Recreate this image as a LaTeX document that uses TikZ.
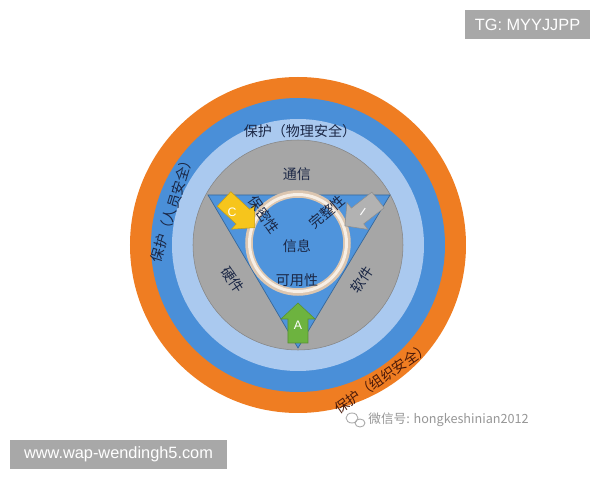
\documentclass[tikz,border=0pt]{standalone}
\usepackage{fontspec}
\setmainfont{Liberation Sans}
\newfontfamily\cjk{Noto Sans CJK SC}
\definecolor{orng}{HTML}{EF7D22}
\definecolor{midblue}{HTML}{4A8FD8}
\definecolor{lightblue}{HTML}{AAC9EF}
\definecolor{disk}{HTML}{A6A6A6}
\definecolor{tri}{HTML}{4F94DC}
\definecolor{navy}{HTML}{1B2745}
\definecolor{brownred}{HTML}{4A1A0A}
\definecolor{ringc}{HTML}{DCC6B0}
\definecolor{ringh}{HTML}{F7EFE6}
\definecolor{wmgray}{HTML}{A8A8A8}
\definecolor{yel}{HTML}{F6C51C}
\definecolor{grn}{HTML}{6DB33F}
\definecolor{garrow}{HTML}{B2B2B2}
\begin{document}
\begin{tikzpicture}[x=0.02cm,y=-0.02cm,
  lab/.style={font=\cjk\fontsize{8}{9}\selectfont, text=navy, inner sep=0pt},
  wm/.style={fill=wmgray, text=white, font=\fontsize{9.3}{11}\selectfont, inner sep=0pt, anchor=center},
  arrlab/.style={text=white, font=\fontsize{7}{8}\selectfont, inner sep=0pt},
  blockarrow/.style={line width=0.3pt}
]
\useasboundingbox (0,0) rectangle (600,480);
\fill[white] (0,0) rectangle (600,480);
\coordinate (O) at (298,245);
% rings
\fill[orng] (O) circle[radius=168];
\fill[midblue] (O) circle[radius=147];
\fill[lightblue] (O) circle[radius=126];
\fill[disk] (O) circle[radius=105];
\draw[disk!80!black, line width=0.3pt] (O) circle[radius=105];
% triangle
\coordinate (T1) at (208,195);
\coordinate (T2) at (390,195);
\coordinate (T3) at (298,348);
\filldraw[fill=tri, draw=tri!70!black, line width=0.4pt] (T1) -- (T2) -- (T3) -- cycle;
% inner ring
\coordinate (R) at (298,243);
\fill[tri] (R) circle[radius=49];
\draw[ringc, line width=7.5*0.02cm] (R) circle[radius=49];
\draw[ringh, line width=3*0.02cm] (R) circle[radius=48.5];
% block arrows
\filldraw[fill=yel, draw=yel!80!black, blockarrow, shift={(224,199)}, rotate=-43]
  (0,-10) -- (26,-10) -- (26,-17) -- (42,0) -- (26,17) -- (26,10) -- (0,10) -- cycle;
\filldraw[fill=garrow, draw=garrow!80!black, blockarrow, shift={(378,200)}, rotate=-142]
  (0,-10) -- (26,-10) -- (26,-17) -- (42,0) -- (26,17) -- (26,10) -- (0,10) -- cycle;
\filldraw[fill=grn, draw=grn!80!black, blockarrow, shift={(298,343)}, rotate=90]
  (0,-10) -- (24,-10) -- (24,-17) -- (40,0) -- (24,17) -- (24,10) -- (0,10) -- cycle;
\node[arrlab] (labC) at (232,212) {C};
\node[arrlab, rotate=-35] (labI) at (363,212) {I};
\node[arrlab] (labA) at (298,325) {A};
% texts
\node[lab] (phys) at (300,131) {保护（物理安全）};
\node[lab, rotate=73] (pers) at (172,208) {保护（人员安全）};
\node[lab, text=brownred, rotate=35] (org) at (382,378) {保护（组织安全）};
\node[lab] (comm) at (297,174) {通信};
\node[lab, rotate=-56] (hw) at (233,280) {硬件};
\node[lab, rotate=56] (sw) at (362,280) {软件};
\node[lab, rotate=-55] (conf) at (264,215) {保密性};
\node[lab, rotate=40] (integ) at (327,212) {完整性};
\node[lab] (info) at (297,246) {信息};
\node[lab] (avail) at (297,280) {可用性};
% watermarks
\fill[wmgray] (465,10) rectangle (590,39);
\node[wm] (tg) at (527.5,24.5) {TG: MYYJJPP};
\fill[wmgray] (10,440) rectangle (227,469);
\node[wm] (www) at (118.5,454.5) {www.wap-wendingh5.com};
\node[text=wmgray!90!black, font=\cjk\fontsize{7.2}{8}\selectfont, inner sep=0pt, anchor=west] (wx) at (368,420) {微信号: hongkeshinian2012};
\draw[wmgray, line width=0.5pt] (352,418) ellipse[x radius=6, y radius=5];
\draw[wmgray, line width=0.5pt] (360,423) ellipse[x radius=5, y radius=4];
\end{tikzpicture}
\end{document}
